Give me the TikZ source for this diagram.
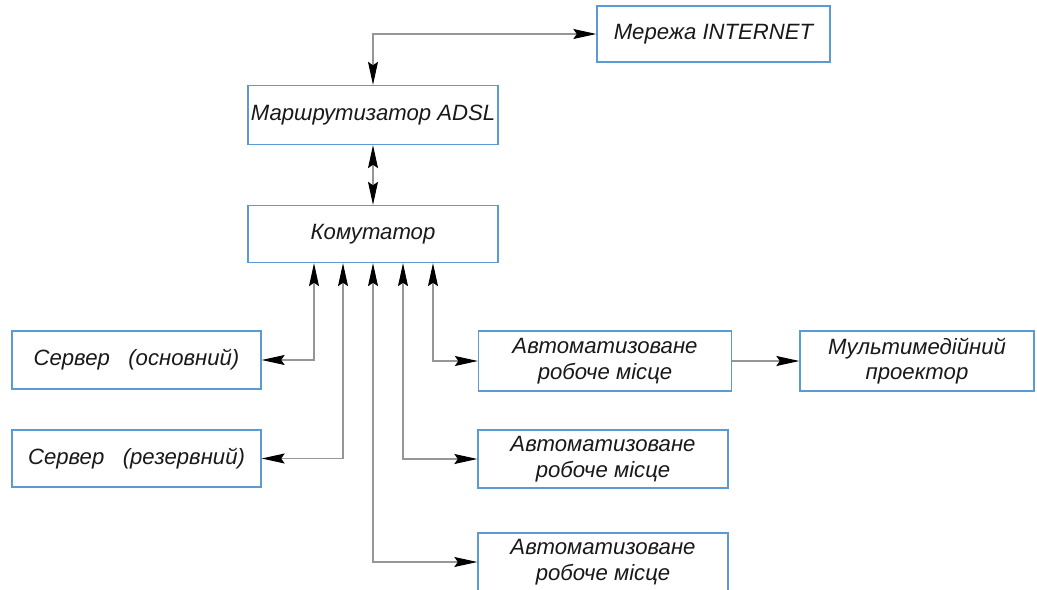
\documentclass[tikz,border=0pt]{standalone}
\usepackage{fontspec}
\setmainfont{Liberation Sans}
\usepackage{tikz}
\usetikzlibrary{arrows.meta}
\definecolor{boxblue}{RGB}{91,155,213}
\definecolor{linegray}{RGB}{150,150,150}
\tikzset{block/.style={draw=boxblue,line width=0.8pt,align=center,
		font=\fontsize{12.6}{14.5}\selectfont\itshape,text=black!90,
		minimum width=5cm,minimum height=1.16cm,inner sep=1pt},
	link/.style={draw=linegray,line width=0.6pt,
		>={Stealth[length=4.6mm,width=2mm,inset=0.7mm,color=black]}},
	x=0.02cm,y=-0.02cm}

\begin{document}
\begin{tikzpicture}
	\useasboundingbox (0,0) rectangle (1037,590);
	\node[block,minimum width=4.66cm,minimum height=1.12cm] (inet) at (713.5,34) {Мережа INTERNET};
	\node[block,minimum height=1.18cm] (router) at (373,115) {Маршрутизатор ADSL};
	\node[block,minimum height=1.14cm] (switch) at (373,234) {Комутатор};
	\node[block,minimum width=4.98cm] (srv1) at (136.5,360) {Сервер\ \ \ (основний)};
	\node[block,minimum width=4.98cm,minimum height=1.14cm] (srv2) at (136.5,458.5) {Сервер\ \ \ (резервний)};
	\node[block,minimum width=5.06cm,minimum height=1.2cm] (aws1) at (605,361) {Автоматизоване\\робоче місце};
	\node[block] (aws2) at (603,459) {Автоматизоване\\робоче місце};
	\node[block] (aws3) at (603,562) {Автоматизоване\\робоче місце};
	\node[block,minimum width=4.68cm,minimum height=1.2cm] (proj) at (917,361) {Мультимедійний\\проектор};

	\draw[link,<->] (router.north) |- (inet.west);
	\draw[link,<->] (router.south) -- (switch.north);
	\draw[link,<->] ([xshift=-1.18cm]switch.south) |- (srv1.east);
	\draw[link,<->] ([xshift=-0.6cm]switch.south) |- (srv2.east);
	\draw[link,<->] (switch.south) |- (aws3.west);
	\draw[link,<->] ([xshift=0.6cm]switch.south) |- (aws2.west);
	\draw[link,<->] ([xshift=1.2cm]switch.south) |- (aws1.west);
	\draw[link,->] (aws1.east) -- (proj.west);
\end{tikzpicture}
\end{document}
